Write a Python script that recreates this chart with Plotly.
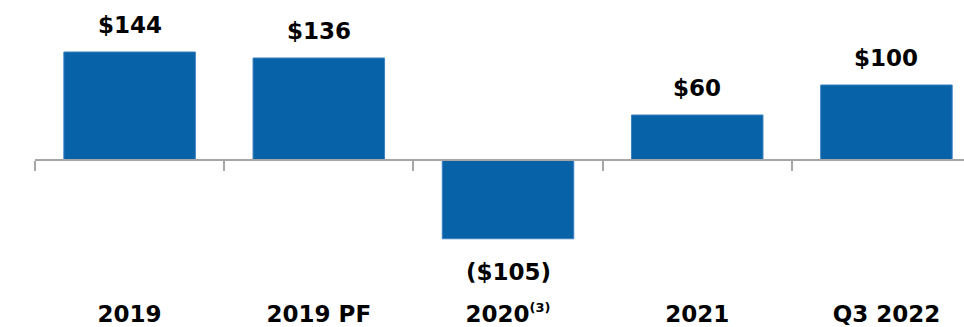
import plotly.graph_objects as go

categories = ["2019", "2019 PF", "2020<sup><span style='font-size:13px'>(3)</span></sup>", "2021", "Q3 2022"]
values = [144, 136, -105, 60, 100]
value_labels = ["$144", "$136", "($105)", "$60", "$100"]

BAR = "#0762A7"
GRAY = "#A6A6A6"
FONT = "DejaVu Sans"

W, H = 964, 327
ML = 35
y_lo, y_hi = -222.67, 213.33
zero_frac = (0 - y_lo) / (y_hi - y_lo)

fig = go.Figure()
fig.add_trace(go.Bar(
    x=categories, y=values,
    marker=dict(color=BAR, line=dict(color="#3B80C0", width=1)),
    width=0.695,
    hoverinfo="skip",
))

for i, (v, t) in enumerate(zip(values, value_labels)):
    fig.add_annotation(
        x=i, y=v, text=f"<b>{t}</b>", showarrow=False,
        yanchor="bottom" if v >= 0 else "top",
        yshift=12 if v >= 0 else -18,
        font=dict(family=FONT, size=23, color="#000000"),
    )

fig.update_layout(
    width=W, height=H,
    margin=dict(l=ML, r=0, t=0, b=0, autoexpand=False),
    paper_bgcolor="white", plot_bgcolor="white",
    showlegend=False,
    xaxis=dict(
        type="category",
        range=[-0.5, 4.41],
        showgrid=False, zeroline=False,
        showline=True, linecolor=GRAY, linewidth=2,
        ticks="outside", tickson="boundaries", ticklen=10, tickwidth=2, tickcolor=GRAY,
        anchor="free", position=zero_frac,
        ticklabelstandoff=133,
        tickfont=dict(family=FONT, size=23, color="#000000", weight="bold"),
        automargin=False,
    ),
    yaxis=dict(
        range=[y_lo, y_hi], visible=False, showgrid=False, zeroline=False,
        automargin=False,
    ),
)

fig.write_html("out.html")
